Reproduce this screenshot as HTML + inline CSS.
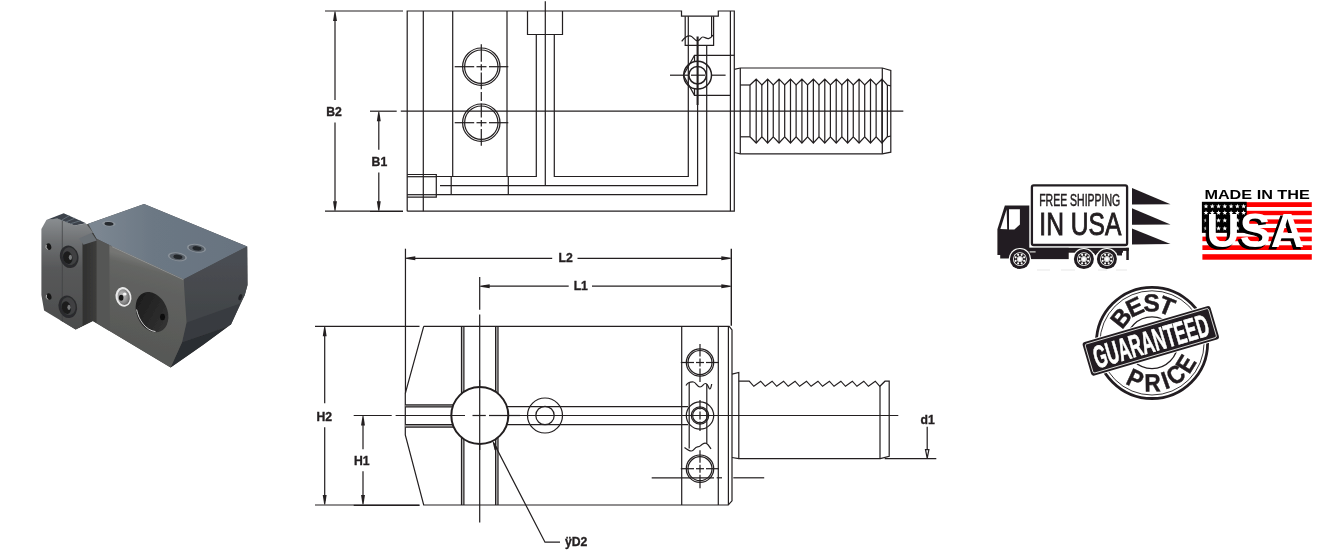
<!DOCTYPE html>
<html><head><meta charset="utf-8"><title>Tool holder drawing</title>
<style>
html,body{margin:0;padding:0;background:#fff;}
body{width:1317px;height:552px;overflow:hidden;font-family:"Liberation Sans",sans-serif;}
svg{display:block;position:absolute;left:0;top:0;}
</style></head><body>
<svg width="1317" height="552" viewBox="0 0 1317 552">
<rect width="1317" height="552" fill="#fff"/>
<defs>
<filter id="pb" x="-5%" y="-5%" width="110%" height="110%"><feGaussianBlur stdDeviation="0.55"/></filter>
<filter id="pb2" x="-20%" y="-20%" width="140%" height="140%"><feGaussianBlur stdDeviation="0.8"/></filter>
<linearGradient id="gTop" gradientUnits="userSpaceOnUse" x1="95" y1="235" x2="240" y2="235"><stop offset="0" stop-color="#7c8792"/><stop offset="0.4" stop-color="#6c7884"/><stop offset="1" stop-color="#687380"/></linearGradient>
<linearGradient id="gFront" gradientUnits="userSpaceOnUse" x1="150" y1="262" x2="128" y2="345"><stop offset="0" stop-color="#747573"/><stop offset="0.09" stop-color="#656664"/><stop offset="0.3" stop-color="#60615f"/><stop offset="1" stop-color="#575856"/></linearGradient>
<linearGradient id="gFl" gradientUnits="userSpaceOnUse" x1="60" y1="218" x2="60" y2="328"><stop offset="0" stop-color="#8a8e91"/><stop offset="0.22" stop-color="#6d6f71"/><stop offset="0.45" stop-color="#58595a"/><stop offset="1" stop-color="#4b4c4c"/></linearGradient>
<linearGradient id="gSide" gradientUnits="userSpaceOnUse" x1="82" y1="0" x2="97" y2="0"><stop offset="0" stop-color="#2f2f2e"/><stop offset="1" stop-color="#3d3d3c"/></linearGradient>
<linearGradient id="gR1" gradientUnits="userSpaceOnUse" x1="215" y1="262" x2="215" y2="312"><stop offset="0" stop-color="#4a4d52"/><stop offset="1" stop-color="#424549"/></linearGradient>
<linearGradient id="gBore" gradientUnits="userSpaceOnUse" x1="140" y1="295" x2="166" y2="330"><stop offset="0" stop-color="#1c1c1c"/><stop offset="1" stop-color="#343434"/></linearGradient>
<radialGradient id="gScrew" cx="0.4" cy="0.4" r="0.7"><stop offset="0" stop-color="#c9c9c9"/><stop offset="0.6" stop-color="#8d8d8d"/><stop offset="1" stop-color="#555"/></radialGradient>
</defs>
<g filter="url(#pb)">
<polygon points="88.3,223.7 144.1,204.1 247.2,246.4 247.5,285 244.8,295 231.1,324.2 202.9,345 170.6,367.4 92.9,321 75.6,329.6 60,320 60,235" fill="#4a4b4b"/>
<polygon points="88.3,223.7 144.1,204.1 247.2,246.4 183.7,279.2 109.3,245 96.5,238.7 92.9,232.4" fill="url(#gTop)"/>
<polygon points="183.7,279.2 247.2,246.4 247.5,285 244.8,295 240.6,303.2 186.5,322.5 184.6,295" fill="url(#gR1)"/>
<polygon points="186.5,322.5 240.6,303.2 231.1,324.2 228,326.5 182,342.3" fill="#383b40"/>
<polygon points="182,342.3 228,326.5 202.9,345 170.6,367.4" fill="#2b2d30"/>
<polygon points="96.5,238.7 109.3,245 109.3,331 96.5,323.2" fill="#555655"/>
<polygon points="109.3,245 183.7,279.2 184.6,295 186.5,322.5 182,342.3 170.6,367.4 109.3,330.7" fill="url(#gFront)"/>
<path d="M112 246.6L183.4 279.6" stroke="#b4b8bb" stroke-width="0.9" fill="none" opacity="0.55"/>
<ellipse cx="152" cy="312.1" rx="15.3" ry="21" transform="rotate(-24 152 312.1)" fill="url(#gBore)"/>
<path d="M136.6 309.5C138.5 320 146 330.5 155.5 331.6" stroke="#e8e8e8" stroke-width="1" fill="none" opacity="0.85"/>
<ellipse cx="162.5" cy="317" rx="2.6" ry="3.2" fill="#111"/>
<ellipse cx="123.5" cy="296.9" rx="7.9" ry="9.9" transform="rotate(-12 123.5 296.9)" fill="#e9e9e9"/>
<ellipse cx="123.7" cy="297.1" rx="6" ry="7.9" transform="rotate(-12 123.7 297.1)" fill="url(#gScrew)"/>
<ellipse cx="121.2" cy="297.8" rx="2.3" ry="3" fill="#161616"/>
<ellipse cx="124.8" cy="294" rx="1.8" ry="1.5" fill="#fff" opacity="0.9"/>
<ellipse cx="177.4" cy="256.8" rx="9.6" ry="4.3" transform="rotate(8 177.4 256.8)" fill="#8a929a"/>
<ellipse cx="177.4" cy="256.8" rx="8" ry="3.4" transform="rotate(8 177.4 256.8)" fill="#565d65"/>
<ellipse cx="177.9" cy="256.8" rx="4.6" ry="2.2" transform="rotate(8 177.4 256.8)" fill="#24272b"/>
<ellipse cx="196.5" cy="248.3" rx="9.6" ry="4.3" transform="rotate(8 196.5 248.3)" fill="#8a929a"/>
<ellipse cx="196.5" cy="248.3" rx="8" ry="3.4" transform="rotate(8 196.5 248.3)" fill="#565d65"/>
<ellipse cx="197" cy="248.3" rx="4.6" ry="2.2" transform="rotate(8 196.5 248.3)" fill="#24272b"/>
<ellipse cx="108.8" cy="223.7" rx="6.8" ry="2.7" transform="rotate(5 108.8 223.7)" fill="#8c949c"/>
<ellipse cx="109" cy="223.9" rx="4.6" ry="1.8" transform="rotate(5 109 223.9)" fill="#262a2e"/>
<ellipse cx="240.3" cy="297.2" rx="1.7" ry="3.2" transform="rotate(20 240.3 297.2)" fill="#222426"/>
<polygon points="82.4,239.5 92.9,232.4 96.5,238.7 96.5,323.2 92.9,321 75.6,329.6 82.4,325" fill="url(#gSide)"/>
<polygon points="41.4,229 46.4,220.1 57.3,218.2 74.6,225.5 86,223.4 92.9,232.4 82.4,240 82.4,325.6 75.6,329.6 44.1,310.5 41.4,295" fill="url(#gFl)"/>
<polygon points="79,238.5 91.7,232.8 96.8,240.4 83.5,244.8" fill="#6b6f75"/>
<polygon points="46.4,220.1 63.7,213.2 86,223.2 74.6,225.6 57.3,218.4" fill="#3c434b"/>
<path d="M61.625 220.2L69.275 215.7" stroke="#66707a" stroke-width="0.9" fill="none"/>
<path d="M65.95 222L74.85 218.2" stroke="#66707a" stroke-width="0.9" fill="none"/>
<path d="M70.275 223.8L80.425 220.7" stroke="#66707a" stroke-width="0.9" fill="none"/>
<path d="M62.3 221L62.3 321.5" stroke="#3e3f40" stroke-width="0.7" fill="none"/>
<ellipse cx="69.2" cy="256.8" rx="9.2" ry="11.4" transform="rotate(-14 69.2 256.8)" fill="#2b2c2d"/>
<ellipse cx="70" cy="256.3" rx="7" ry="9" transform="rotate(-14 69.2 256.8)" fill="#3f4142"/>
<ellipse cx="67.6" cy="257.3" rx="4.6" ry="6.4" transform="rotate(-14 69.2 256.8)" fill="#1d1e1f"/>
<ellipse cx="70.4" cy="257.3" rx="1.6" ry="2.6" fill="#77797a"/>
<ellipse cx="67.8" cy="306.8" rx="9.2" ry="11.4" transform="rotate(-14 67.8 306.8)" fill="#2b2c2d"/>
<ellipse cx="68.6" cy="306.3" rx="7" ry="9" transform="rotate(-14 67.8 306.8)" fill="#3f4142"/>
<ellipse cx="66.2" cy="307.3" rx="4.6" ry="6.4" transform="rotate(-14 67.8 306.8)" fill="#1d1e1f"/>
<ellipse cx="69" cy="307.3" rx="1.6" ry="2.6" fill="#77797a"/>
<ellipse cx="48.7" cy="246.6" rx="2.5" ry="3.3" transform="rotate(-20 48.7 246.6)" fill="#151515"/>
<path d="M46.4 244.8A2.6 3.4 -20 0 0 47.7 249.6" stroke="#d8d8d8" stroke-width="0.8" fill="none"/>
<ellipse cx="48.9" cy="296.5" rx="2.5" ry="3.3" transform="rotate(-20 48.9 296.5)" fill="#151515"/>
<path d="M46.6 294.7A2.6 3.4 -20 0 0 47.9 299.5" stroke="#d8d8d8" stroke-width="0.8" fill="none"/>
</g>
<g fill="none" stroke="#231f20" stroke-width="1.22" stroke-linecap="butt" stroke-linejoin="miter">
<path d="M407.2 211.2L407.2 11L681.5 11L681.5 16.2L718.3 16.2L718.3 11L734.3 11L734.3 211.2L407.2 211.2"/>
<path d="M730.4 11L730.4 211.2"/>
<path d="M423.3 11L423.3 211.2"/>
<path d="M452.7 11L452.7 176.5"/>
<path d="M507 11L507 176.5"/>
<path d="M527.5 11L527.5 34.5L562.5 34.5L562.5 11"/>
<path d="M545.3 1.3L545.3 185.7"/>
<path d="M536.3 34.5L536.3 176.5L436.3 176.5"/>
<path d="M554.3 34.5L554.3 176.5L688.3 176.5L688.3 16.2"/>
<path d="M440 185.7L697.6 185.7L697.6 105"/>
<path d="M436.3 194.7L706.7 194.7L706.7 45.3"/>
<path d="M451.2 176.5L451.2 194.7"/>
<path d="M508.3 176.5L508.3 194.7"/>
<path d="M407.2 174.5L436.3 174.5L436.3 197.2L407.2 197.2"/>
<path d="M407.2 176.7L436.3 176.7"/>
<path d="M407.2 194.7L436.3 194.7"/>
<path d="M685.2 16.2L685.2 45.3L713.6 45.3L713.6 16.2"/>
<path d="M711.6 16.2L711.6 37"/>
<path d="M681.7 41.3C684 38 687 35.6 690 35.8S694.5 40.8 697.5 40.8S700.5 37 702.8 37S706.5 39 708.5 38.6S711.8 37 712.8 35"/>
<path d="M730.4 55.3L694.5 55.3L683.4 75.2L694.5 95.3L730.4 95.3"/>
<path d="M730.4 55.3L734.3 55.3"/>
<path d="M694.5 55.3L694.5 62"/>
<path d="M694.5 88.5L694.5 95.3"/>
<circle cx="697.6" cy="75.2" r="13.9" stroke-width="1.5"/>
<circle cx="697.6" cy="75.2" r="8.7" stroke-width="1.5"/>
<path d="M670 75.2L688.5 75.2"/>
<path d="M691 75.2L705 75.2"/>
<path d="M711 75.2L725.6 75.2"/>
<path d="M697.6 36.5L697.6 105" stroke-width="2.1"/>
<circle cx="481.3" cy="66.7" r="18.7"/>
<circle cx="481.3" cy="66.7" r="16.7"/>
<path d="M454.7 66.7L474.2 66.7"/>
<path d="M476.5 66.7L486.5 66.7"/>
<path d="M489 66.7L508.3 66.7"/>
<circle cx="481.3" cy="122.7" r="18.7"/>
<circle cx="481.3" cy="122.7" r="16.7"/>
<path d="M454.7 122.7L474.2 122.7"/>
<path d="M476.5 122.7L486.5 122.7"/>
<path d="M489 122.7L508.3 122.7"/>
<path d="M481.3 44.2L481.3 61.7"/>
<path d="M481.3 64.2L481.3 70.5"/>
<path d="M481.3 72.5L481.3 89.2"/>
<path d="M481.3 92L481.3 101"/>
<path d="M481.3 103.5L481.3 117.5"/>
<path d="M481.3 120L481.3 126.5"/>
<path d="M481.3 129L481.3 145.8"/>
<path d="M734.3 69.3L740.3 68L882.3 68L890.8 70.5L890.8 152.2L882.3 153.8L740.3 153.8L734.3 152.5"/>
<path d="M740.3 68L740.3 153.8"/>
<path d="M882.3 68L882.3 153.8"/>
<path d="M740.3 85L750 85"/>
<path d="M740.3 136.8L750 136.8"/>
<path d="M750 85L756.2 79.2L761.83 85L767.63 79.2L773.26 85L779.06 79.2L784.69 85L790.49 79.2L796.12 85L801.92 79.2L807.55 85L813.35 79.2L818.98 85L824.78 79.2L830.41 85L836.21 79.2L841.84 85L847.64 79.2L853.27 85L859.07 79.2L864.7 85L870.5 79.2L876.13 85L881.93 79.2L887.2 85L890.8 85.9"/>
<path d="M750 136.8L756.2 143L761.83 136.8L767.63 143L773.26 136.8L779.06 143L784.69 136.8L790.49 143L796.12 136.8L801.92 143L807.55 136.8L813.35 143L818.98 136.8L824.78 143L830.41 136.8L836.21 143L841.84 136.8L847.64 143L853.27 136.8L859.07 143L864.7 136.8L870.5 143L876.13 136.8L881.93 143L887.2 136.8L890.8 136"/>
<path d="M756.2 79.2L756.2 143"/>
<path d="M767.63 79.2L767.63 143"/>
<path d="M779.06 79.2L779.06 143"/>
<path d="M790.49 79.2L790.49 143"/>
<path d="M801.92 79.2L801.92 143"/>
<path d="M813.35 79.2L813.35 143"/>
<path d="M824.78 79.2L824.78 143"/>
<path d="M836.21 79.2L836.21 143"/>
<path d="M847.64 79.2L847.64 143"/>
<path d="M859.07 79.2L859.07 143"/>
<path d="M870.5 79.2L870.5 143"/>
<path d="M881.93 79.2L881.93 143"/>
<path d="M750 85L750 136.8"/>
<path d="M761.83 85L761.83 136.8"/>
<path d="M773.26 85L773.26 136.8"/>
<path d="M784.69 85L784.69 136.8"/>
<path d="M796.12 85L796.12 136.8"/>
<path d="M807.55 85L807.55 136.8"/>
<path d="M818.98 85L818.98 136.8"/>
<path d="M830.41 85L830.41 136.8"/>
<path d="M841.84 85L841.84 136.8"/>
<path d="M853.27 85L853.27 136.8"/>
<path d="M864.7 85L864.7 136.8"/>
<path d="M876.13 85L876.13 136.8"/>
<path d="M887.4 85L887.4 136.8"/>
<path d="M370 111.2L396.7 111.2"/>
<path d="M400.8 111.2L903.3 111.2"/>
<path d="M325 11L403 11"/>
<path d="M325 211.2L403 211.2"/>
<path d="M335 15L335 100"/>
<path d="M335 122.5L335 207.2"/>
<path d="M334.5 11.5L335.5 11.5L336.95 21L333.05 21Z" fill="#231f20" stroke="none"/>
<path d="M334.5 210.7L335.5 210.7L336.95 201.2L333.05 201.2Z" fill="#231f20" stroke="none"/>
<path d="M378.8 115.2L378.8 149.7"/>
<path d="M378.8 172.5L378.8 207.2"/>
<path d="M378.3 111.7L379.3 111.7L380.75 121.2L376.85 121.2Z" fill="#231f20" stroke="none"/>
<path d="M378.3 210.7L379.3 210.7L380.75 201.2L376.85 201.2Z" fill="#231f20" stroke="none"/>
<path d="M370 211.5L403 211.5"/>
<path d="M405.45 248.7L405.45 393.3"/>
<path d="M409.3 258.3L552.2 258.3"/>
<path d="M577.5 258.3L727.3 258.3"/>
<path d="M405.8 257.8L405.8 258.8L415.3 260.25L415.3 256.35Z" fill="#231f20" stroke="none"/>
<path d="M730.8 257.8L730.8 258.8L721.3 260.25L721.3 256.35Z" fill="#231f20" stroke="none"/>
<path d="M483.7 286.2L568.7 286.2"/>
<path d="M592 286.2L727.3 286.2"/>
<path d="M480.2 285.7L480.2 286.7L489.7 288.15L489.7 284.25Z" fill="#231f20" stroke="none"/>
<path d="M730.8 285.7L730.8 286.7L721.3 288.15L721.3 284.25Z" fill="#231f20" stroke="none"/>
<path d="M731.3 248.7L731.3 325.8" stroke-width="1.4"/>
<path d="M479.7 277L479.7 309.7"/>
<path d="M479.7 314.5L479.7 522.5"/>
<rect x="461.7" y="326.3" width="2" height="178.7" fill="#bdbdbd" stroke="none"/>
<rect x="495.8" y="326.3" width="2" height="178.7" fill="#bdbdbd" stroke="none"/>
<path d="M461.5 326.3L461.5 505"/>
<path d="M463.9 326.3L463.9 505"/>
<path d="M495.6 326.3L495.6 505"/>
<path d="M498 326.3L498 505"/>
<path d="M423.7 326.3L729.2 326.3L732 330L732 500.8L728.3 505L423.7 505L405.3 435L405.3 393.3L423.7 326.3"/>
<path d="M728.4 326.3L728.4 505"/>
<path d="M315 326.3L419.5 326.3"/>
<path d="M315 505L419.5 505"/>
<path d="M681.7 326.3L681.7 505"/>
<path d="M718.3 326.3L718.3 505"/>
<rect x="405.3" y="405" width="50" height="1.7" fill="#bdbdbd" stroke="none"/>
<rect x="405.3" y="424.7" width="50" height="2.4" fill="#bdbdbd" stroke="none"/>
<path d="M405.3 404.8L455 404.8"/>
<path d="M405.3 406.8L455 406.8"/>
<path d="M405.3 424.6L455 424.6"/>
<path d="M405.3 427.2L455 427.2"/>
<path d="M505 406.7L688 406.7"/>
<path d="M505 424.7L688 424.7"/>
<path d="M353.7 415.5L391.7 415.5"/>
<path d="M395.8 415.5L465 415.5"/>
<path d="M472.5 415.5L485.8 415.5"/>
<path d="M489 415.5L898.3 415.5"/>
<circle cx="479.8" cy="415.5" r="28.5" fill="#fff" stroke-width="2"/>
<path d="M479.7 380L479.7 450"/>
<path d="M395.8 415.5L465 415.5"/>
<path d="M472.5 415.5L485.8 415.5"/>
<path d="M489 415.5L520 415.5"/>
<circle cx="545" cy="415.5" r="17.5"/>
<circle cx="545" cy="415.5" r="9.2"/>
<circle cx="700" cy="362.5" r="13.7"/>
<circle cx="700" cy="362.5" r="12"/>
<path d="M680.8 362.5L694 362.5"/>
<path d="M696 362.5L704 362.5"/>
<path d="M706 362.5L719 362.5"/>
<path d="M700 344L700 356.5"/>
<path d="M700 358.5L700 366.5"/>
<path d="M700 368.5L700 382"/>
<circle cx="700" cy="468.7" r="13.7"/>
<circle cx="700" cy="468.7" r="12"/>
<path d="M680.8 468.7L694 468.7"/>
<path d="M696 468.7L704 468.7"/>
<path d="M706 468.7L719 468.7"/>
<path d="M700 450.2L700 462.7"/>
<path d="M700 464.7L700 472.7"/>
<path d="M700 474.7L700 488.2"/>
<circle cx="700" cy="415.5" r="13.7"/>
<circle cx="700" cy="415.5" r="8.7"/>
<circle cx="700" cy="415.5" r="7.4"/>
<path d="M700 400L700 409.5"/>
<path d="M700 411.5L700 419.5"/>
<path d="M700 421.5L700 431"/>
<path d="M686 385.5C688 382 691 381.8 693.5 382S697 387 700 387S703 383.5 705.5 383.5S708.8 389 709.8 389S711.2 386.5 711.7 384"/>
<path d="M684.5 447.5C687 449.5 689 451 691.5 451S694.5 447 697.5 446.8S700 445.8 702 444.5S704.5 442.5 706.5 443.5S709.5 447 711 449"/>
<path d="M689.2 383L689.2 448.5"/>
<path d="M706.8 384L706.8 443.5"/>
<path d="M651.7 477.8L714 477.8"/>
<path d="M716.7 477.8L722 477.8"/>
<path d="M733.3 477.8L764.2 477.8"/>
<path d="M732 374.2L738.8 372.5L738.8 458.7"/>
<path d="M738.8 381.2L749.2 381.2L753.8 386.3L760.66 381.2L765.26 386.3L772.12 381.2L776.72 386.3L783.58 381.2L788.18 386.3L795.04 381.2L799.64 386.3L806.5 381.2L811.1 386.3L817.96 381.2L822.56 386.3L829.42 381.2L834.02 386.3L840.88 381.2L845.48 386.3L852.34 381.2L856.94 386.3L863.8 381.2L868.4 386.3L875.26 381.2L879.86 386.3L885 381.2L889.2 381.2L889.2 456.3L880.3 458.7L738.8 458.7L732 457.5"/>
<path d="M880 386.3L880 458.7"/>
<path d="M884.7 458.7L936.3 458.7"/>
<path d="M927.2 426.7L927.2 450"/>
<path d="M927.2 458.2L925.5 449.7L928.9 449.7L927.2 458.2"/>
<path d="M324.7 330.3L324.7 403.3"/>
<path d="M324.7 427.2L324.7 501"/>
<path d="M324.2 326.8L325.2 326.8L326.65 336.3L322.75 336.3Z" fill="#231f20" stroke="none"/>
<path d="M324.2 504.5L325.2 504.5L326.65 495L322.75 495Z" fill="#231f20" stroke="none"/>
<path d="M363 419.5L363 449.2"/>
<path d="M363 471.3L363 501"/>
<path d="M362.5 416L363.5 416L364.95 425.5L361.05 425.5Z" fill="#231f20" stroke="none"/>
<path d="M362.5 504.5L363.5 504.5L364.95 495L361.05 495Z" fill="#231f20" stroke="none"/>
<path d="M353.7 505.3L419.5 505.3"/>
<path d="M493.5 442.5L545 542.2L560 542.2"/>
<path d="M492.3 440.3L494.6 450.2L498 448.4Z" fill="#231f20" stroke="none"/>
</g>
<g font-family="'Liberation Sans', sans-serif" font-weight="bold" font-size="12.2px" fill="#231f20" stroke="#231f20" stroke-width="0.35" text-anchor="middle" opacity="0.995">
<text x="334" y="115.8">B2</text>
<text x="379.4" y="165.7">B1</text>
<text x="565.6" y="262.2">L2</text>
<text x="580.8" y="290">L1</text>
<text x="324.3" y="420.7">H2</text>
<text x="361.8" y="464.7">H1</text>
<text x="927.6" y="423.8">d1</text>
<text x="565" y="545.8" text-anchor="start">ÿD2</text>
</g>
<defs>
<radialGradient id="gHub" cx="0.5" cy="0.5" r="0.5"><stop offset="0.45" stop-color="#fff"/><stop offset="1" stop-color="#b8b8b8"/></radialGradient>
<filter id="bb" x="-5%" y="-5%" width="110%" height="110%"><feGaussianBlur stdDeviation="0.35"/></filter>
</defs>
<g filter="url(#bb)">
<rect x="1029" y="247.8" width="99.8" height="3.1" fill="#231f20"/>
<rect x="1126.3" y="247.8" width="2.5" height="12.2" fill="#231f20"/>
<rect x="1029" y="247.8" width="39.7" height="11.3" fill="#231f20"/>
<rect x="1068" y="250.5" width="55" height="2.2" fill="#231f20"/>
<rect x="1116.5" y="250.5" width="5.5" height="5" fill="#231f20"/>
<path d="M1093 252L1098 252L1095.5 255.5Z" fill="#231f20"/>
<path d="M1004.9 205.4L1029.3 205.4L1029.3 258.6L1000.2 258.6L1000.2 255L997.4 255L997.4 229.2L1004.2 207.5Z" fill="#231f20"/>
<path d="M1006.6 209.4L1007.2 229.3L1000.4 229Z" fill="#fff"/>
<path d="M1009 209.3L1019.9 209.3L1019.9 224.5L1014.4 229.6L1009 229.6Z" fill="#fff"/>
<rect x="1029.6" y="251.4" width="6" height="1" fill="#fff"/>
<rect x="1031.9" y="185.4" width="95.2" height="59.6" rx="1.8" ry="1.8" fill="#fff" stroke="#231f20" stroke-width="2.3"/>
<path d="M1132 187.9L1170.5 204.2L1132 204.6Z" fill="#231f20"/>
<path d="M1132 208.3L1170.5 224.4L1132 224.8Z" fill="#231f20"/>
<path d="M1132 228.4L1170.5 244L1132 244.4Z" fill="#231f20"/>
<circle cx="1019.9" cy="259.1" r="11.2" fill="#fff"/><circle cx="1019.9" cy="259.1" r="10" fill="#231f20"/><circle cx="1019.9" cy="259.1" r="6.9" fill="#fff"/><circle cx="1019.9" cy="259.1" r="6.1" fill="#231f20"/><circle cx="1024.15" cy="260.86" r="1.05" fill="#fff"/><circle cx="1021.66" cy="263.35" r="1.05" fill="#fff"/><circle cx="1018.14" cy="263.35" r="1.05" fill="#fff"/><circle cx="1015.65" cy="260.86" r="1.05" fill="#fff"/><circle cx="1015.65" cy="257.34" r="1.05" fill="#fff"/><circle cx="1018.14" cy="254.85" r="1.05" fill="#fff"/><circle cx="1021.66" cy="254.85" r="1.05" fill="#fff"/><circle cx="1024.15" cy="257.34" r="1.05" fill="#fff"/><circle cx="1019.9" cy="259.1" r="2.9" fill="#fff"/><circle cx="1019.9" cy="259.1" r="2.9" fill="url(#gHub)"/>
<circle cx="1083.9" cy="259.1" r="11.2" fill="#fff"/><circle cx="1083.9" cy="259.1" r="10" fill="#231f20"/><circle cx="1083.9" cy="259.1" r="6.9" fill="#fff"/><circle cx="1083.9" cy="259.1" r="6.1" fill="#231f20"/><circle cx="1088.15" cy="260.86" r="1.05" fill="#fff"/><circle cx="1085.66" cy="263.35" r="1.05" fill="#fff"/><circle cx="1082.14" cy="263.35" r="1.05" fill="#fff"/><circle cx="1079.65" cy="260.86" r="1.05" fill="#fff"/><circle cx="1079.65" cy="257.34" r="1.05" fill="#fff"/><circle cx="1082.14" cy="254.85" r="1.05" fill="#fff"/><circle cx="1085.66" cy="254.85" r="1.05" fill="#fff"/><circle cx="1088.15" cy="257.34" r="1.05" fill="#fff"/><circle cx="1083.9" cy="259.1" r="2.9" fill="#fff"/><circle cx="1083.9" cy="259.1" r="2.9" fill="url(#gHub)"/>
<circle cx="1106.9" cy="259.1" r="11.2" fill="#fff"/><circle cx="1106.9" cy="259.1" r="10" fill="#231f20"/><circle cx="1106.9" cy="259.1" r="6.9" fill="#fff"/><circle cx="1106.9" cy="259.1" r="6.1" fill="#231f20"/><circle cx="1111.15" cy="260.86" r="1.05" fill="#fff"/><circle cx="1108.66" cy="263.35" r="1.05" fill="#fff"/><circle cx="1105.14" cy="263.35" r="1.05" fill="#fff"/><circle cx="1102.65" cy="260.86" r="1.05" fill="#fff"/><circle cx="1102.65" cy="257.34" r="1.05" fill="#fff"/><circle cx="1105.14" cy="254.85" r="1.05" fill="#fff"/><circle cx="1108.66" cy="254.85" r="1.05" fill="#fff"/><circle cx="1111.15" cy="257.34" r="1.05" fill="#fff"/><circle cx="1106.9" cy="259.1" r="2.9" fill="#fff"/><circle cx="1106.9" cy="259.1" r="2.9" fill="url(#gHub)"/>
<rect x="1037" y="269.4" width="13" height="1.2" fill="#ececec"/>
<rect x="1061" y="269.4" width="14" height="1.2" fill="#ececec"/>
<rect x="1098" y="269.4" width="9" height="1.2" fill="#ececec"/>
<rect x="1116" y="269.4" width="11" height="1.2" fill="#ececec"/>
<text x="1039.2" y="205.5" font-family="'Liberation Sans', sans-serif" font-size="15.8px" fill="#231f20" textLength="81" lengthAdjust="spacingAndGlyphs" stroke="#231f20" stroke-width="0.5">FREE SHIPPING</text>
<text x="1039.3" y="235" font-family="'Liberation Sans', sans-serif" font-size="30.5px" fill="#231f20" textLength="82" lengthAdjust="spacingAndGlyphs" stroke="#231f20" stroke-width="0.9">IN USA</text>
</g>
<g filter="url(#bb)">
<text x="1204.4" y="199.2" font-family="'Liberation Sans', sans-serif" font-weight="bold" font-size="13.3px" fill="#000" textLength="105.4" lengthAdjust="spacingAndGlyphs">MADE IN THE</text>
<rect x="1202.4" y="202.2" width="109.4" height="57.5" fill="#fff"/>
<rect x="1202.4" y="202.2" width="109.4" height="4.8" fill="#fe0000"/>
<rect x="1202.4" y="210.8" width="109.4" height="4.4" fill="#fe0000"/>
<rect x="1202.4" y="219.4" width="109.4" height="4.4" fill="#fe0000"/>
<rect x="1202.4" y="228" width="109.4" height="4.4" fill="#fe0000"/>
<rect x="1202.4" y="236.6" width="109.4" height="4.6" fill="#fe0000"/>
<rect x="1202.4" y="245.3" width="109.4" height="4.7" fill="#fe0000"/>
<rect x="1202.4" y="254.2" width="109.4" height="5.5" fill="#fe0000"/>
<rect x="1201.9" y="201.8" width="44.8" height="31" fill="#000"/>
<g fill="#fff">
<polygon points="1206.00,203.80 1206.65,205.41 1208.38,205.53 1207.05,206.64 1207.47,208.32 1206.00,207.40 1204.53,208.32 1204.95,206.64 1203.62,205.53 1205.35,205.41"/>
<polygon points="1212.27,203.80 1212.92,205.41 1214.65,205.53 1213.32,206.64 1213.74,208.32 1212.27,207.40 1210.80,208.32 1211.22,206.64 1209.89,205.53 1211.62,205.41"/>
<polygon points="1218.54,203.80 1219.19,205.41 1220.92,205.53 1219.59,206.64 1220.01,208.32 1218.54,207.40 1217.07,208.32 1217.49,206.64 1216.16,205.53 1217.89,205.41"/>
<polygon points="1224.81,203.80 1225.46,205.41 1227.19,205.53 1225.86,206.64 1226.28,208.32 1224.81,207.40 1223.34,208.32 1223.76,206.64 1222.43,205.53 1224.16,205.41"/>
<polygon points="1231.08,203.80 1231.73,205.41 1233.46,205.53 1232.13,206.64 1232.55,208.32 1231.08,207.40 1229.61,208.32 1230.03,206.64 1228.70,205.53 1230.43,205.41"/>
<polygon points="1237.35,203.80 1238.00,205.41 1239.73,205.53 1238.40,206.64 1238.82,208.32 1237.35,207.40 1235.88,208.32 1236.30,206.64 1234.97,205.53 1236.70,205.41"/>
<polygon points="1243.62,203.80 1244.27,205.41 1246.00,205.53 1244.67,206.64 1245.09,208.32 1243.62,207.40 1242.15,208.32 1242.57,206.64 1241.24,205.53 1242.97,205.41"/>
<polygon points="1206.00,210.30 1206.65,211.91 1208.38,212.03 1207.05,213.14 1207.47,214.82 1206.00,213.90 1204.53,214.82 1204.95,213.14 1203.62,212.03 1205.35,211.91"/>
<polygon points="1212.27,210.30 1212.92,211.91 1214.65,212.03 1213.32,213.14 1213.74,214.82 1212.27,213.90 1210.80,214.82 1211.22,213.14 1209.89,212.03 1211.62,211.91"/>
<polygon points="1218.54,210.30 1219.19,211.91 1220.92,212.03 1219.59,213.14 1220.01,214.82 1218.54,213.90 1217.07,214.82 1217.49,213.14 1216.16,212.03 1217.89,211.91"/>
<polygon points="1224.81,210.30 1225.46,211.91 1227.19,212.03 1225.86,213.14 1226.28,214.82 1224.81,213.90 1223.34,214.82 1223.76,213.14 1222.43,212.03 1224.16,211.91"/>
<polygon points="1231.08,210.30 1231.73,211.91 1233.46,212.03 1232.13,213.14 1232.55,214.82 1231.08,213.90 1229.61,214.82 1230.03,213.14 1228.70,212.03 1230.43,211.91"/>
<polygon points="1237.35,210.30 1238.00,211.91 1239.73,212.03 1238.40,213.14 1238.82,214.82 1237.35,213.90 1235.88,214.82 1236.30,213.14 1234.97,212.03 1236.70,211.91"/>
<polygon points="1243.62,210.30 1244.27,211.91 1246.00,212.03 1244.67,213.14 1245.09,214.82 1243.62,213.90 1242.15,214.82 1242.57,213.14 1241.24,212.03 1242.97,211.91"/>
<polygon points="1206.00,217.90 1206.65,219.51 1208.38,219.63 1207.05,220.74 1207.47,222.42 1206.00,221.50 1204.53,222.42 1204.95,220.74 1203.62,219.63 1205.35,219.51"/>
<polygon points="1212.27,217.90 1212.92,219.51 1214.65,219.63 1213.32,220.74 1213.74,222.42 1212.27,221.50 1210.80,222.42 1211.22,220.74 1209.89,219.63 1211.62,219.51"/>
<polygon points="1218.54,217.90 1219.19,219.51 1220.92,219.63 1219.59,220.74 1220.01,222.42 1218.54,221.50 1217.07,222.42 1217.49,220.74 1216.16,219.63 1217.89,219.51"/>
<polygon points="1224.81,217.90 1225.46,219.51 1227.19,219.63 1225.86,220.74 1226.28,222.42 1224.81,221.50 1223.34,222.42 1223.76,220.74 1222.43,219.63 1224.16,219.51"/>
<polygon points="1231.08,217.90 1231.73,219.51 1233.46,219.63 1232.13,220.74 1232.55,222.42 1231.08,221.50 1229.61,222.42 1230.03,220.74 1228.70,219.63 1230.43,219.51"/>
<polygon points="1237.35,217.90 1238.00,219.51 1239.73,219.63 1238.40,220.74 1238.82,222.42 1237.35,221.50 1235.88,222.42 1236.30,220.74 1234.97,219.63 1236.70,219.51"/>
<polygon points="1243.62,217.90 1244.27,219.51 1246.00,219.63 1244.67,220.74 1245.09,222.42 1243.62,221.50 1242.15,222.42 1242.57,220.74 1241.24,219.63 1242.97,219.51"/>
<polygon points="1206.00,225.90 1206.65,227.51 1208.38,227.63 1207.05,228.74 1207.47,230.42 1206.00,229.50 1204.53,230.42 1204.95,228.74 1203.62,227.63 1205.35,227.51"/>
<polygon points="1212.27,225.90 1212.92,227.51 1214.65,227.63 1213.32,228.74 1213.74,230.42 1212.27,229.50 1210.80,230.42 1211.22,228.74 1209.89,227.63 1211.62,227.51"/>
<polygon points="1218.54,225.90 1219.19,227.51 1220.92,227.63 1219.59,228.74 1220.01,230.42 1218.54,229.50 1217.07,230.42 1217.49,228.74 1216.16,227.63 1217.89,227.51"/>
<polygon points="1224.81,225.90 1225.46,227.51 1227.19,227.63 1225.86,228.74 1226.28,230.42 1224.81,229.50 1223.34,230.42 1223.76,228.74 1222.43,227.63 1224.16,227.51"/>
<polygon points="1231.08,225.90 1231.73,227.51 1233.46,227.63 1232.13,228.74 1232.55,230.42 1231.08,229.50 1229.61,230.42 1230.03,228.74 1228.70,227.63 1230.43,227.51"/>
<polygon points="1237.35,225.90 1238.00,227.51 1239.73,227.63 1238.40,228.74 1238.82,230.42 1237.35,229.50 1235.88,230.42 1236.30,228.74 1234.97,227.63 1236.70,227.51"/>
<polygon points="1243.62,225.90 1244.27,227.51 1246.00,227.63 1244.67,228.74 1245.09,230.42 1243.62,229.50 1242.15,230.42 1242.57,228.74 1241.24,227.63 1242.97,227.51"/>
</g>
<text x="1203.6" y="249.3" font-family="'Liberation Sans', sans-serif" font-weight="bold" font-size="48px" fill="#000" stroke="#000" stroke-width="1.2" textLength="97.8" lengthAdjust="spacingAndGlyphs">USA</text>
<text x="1206.3" y="247.1" font-family="'Liberation Sans', sans-serif" font-weight="bold" font-size="48px" fill="#fff" textLength="97.8" lengthAdjust="spacingAndGlyphs">USA</text>
</g>
<g filter="url(#bb)">
<circle cx="1152" cy="342.9" r="55.6" fill="#fff" stroke="#231f20" stroke-width="2.8"/>
<circle cx="1152" cy="342.9" r="52.1" fill="none" stroke="#231f20" stroke-width="0.9"/>
<circle cx="1152" cy="342.7" r="25.8" fill="none" stroke="#231f20" stroke-width="1.25"/>
<g font-family="'Liberation Sans', sans-serif" font-weight="bold" fill="#231f20" stroke="#231f20" stroke-width="0.45" text-anchor="middle">
<text font-size="24.5px" transform="translate(1152 342.9) rotate(-51) translate(0 -31.5)">B</text>
<text font-size="24.5px" transform="translate(1152 342.9) rotate(-25.4) translate(0 -31.5)">E</text>
<text font-size="24.5px" transform="translate(1152 342.9) rotate(-0.7) translate(0 -31.5)">S</text>
<text font-size="24.5px" transform="translate(1152 342.9) rotate(21.9) translate(0 -31.5)">T</text>
<text font-size="25px" transform="translate(1152 342.9) rotate(25) translate(0 48.4) scale(0.9 1)">P</text>
<text font-size="25px" transform="translate(1152 342.9) rotate(-0.7) translate(0 48.4) scale(0.9 1)">R</text>
<text font-size="25px" transform="translate(1152 342.9) rotate(-19.5) translate(0 48.4) scale(0.9 1)">I</text>
<text font-size="25px" transform="translate(1152 342.9) rotate(-36.6) translate(0 48.4) scale(0.9 1)">C</text>
<text font-size="25px" transform="translate(1152 342.9) rotate(-58.2) translate(0 48.4) scale(0.9 1)">E</text>
</g>
<g transform="translate(1150.8 340.8) rotate(-16.35)">
<rect x="-67.6" y="-18.4" width="135.2" height="36.8" rx="3.2" ry="3.2" fill="#fff"/>
<rect x="-66.6" y="-17.4" width="133.2" height="34.8" rx="2.8" ry="2.8" fill="#231f20"/>
<rect x="-64.3" y="-15.1" width="128.6" height="30.2" rx="1.8" ry="1.8" fill="none" stroke="#fff" stroke-width="0.75"/>
<text x="-59.5" y="11.3" font-family="'Liberation Sans', sans-serif" font-weight="bold" font-size="31.5px" fill="#fff" stroke="#fff" stroke-width="0.7" textLength="119" lengthAdjust="spacingAndGlyphs">GUARANTEED</text>
</g>
</g>
</svg>
</body></html>
